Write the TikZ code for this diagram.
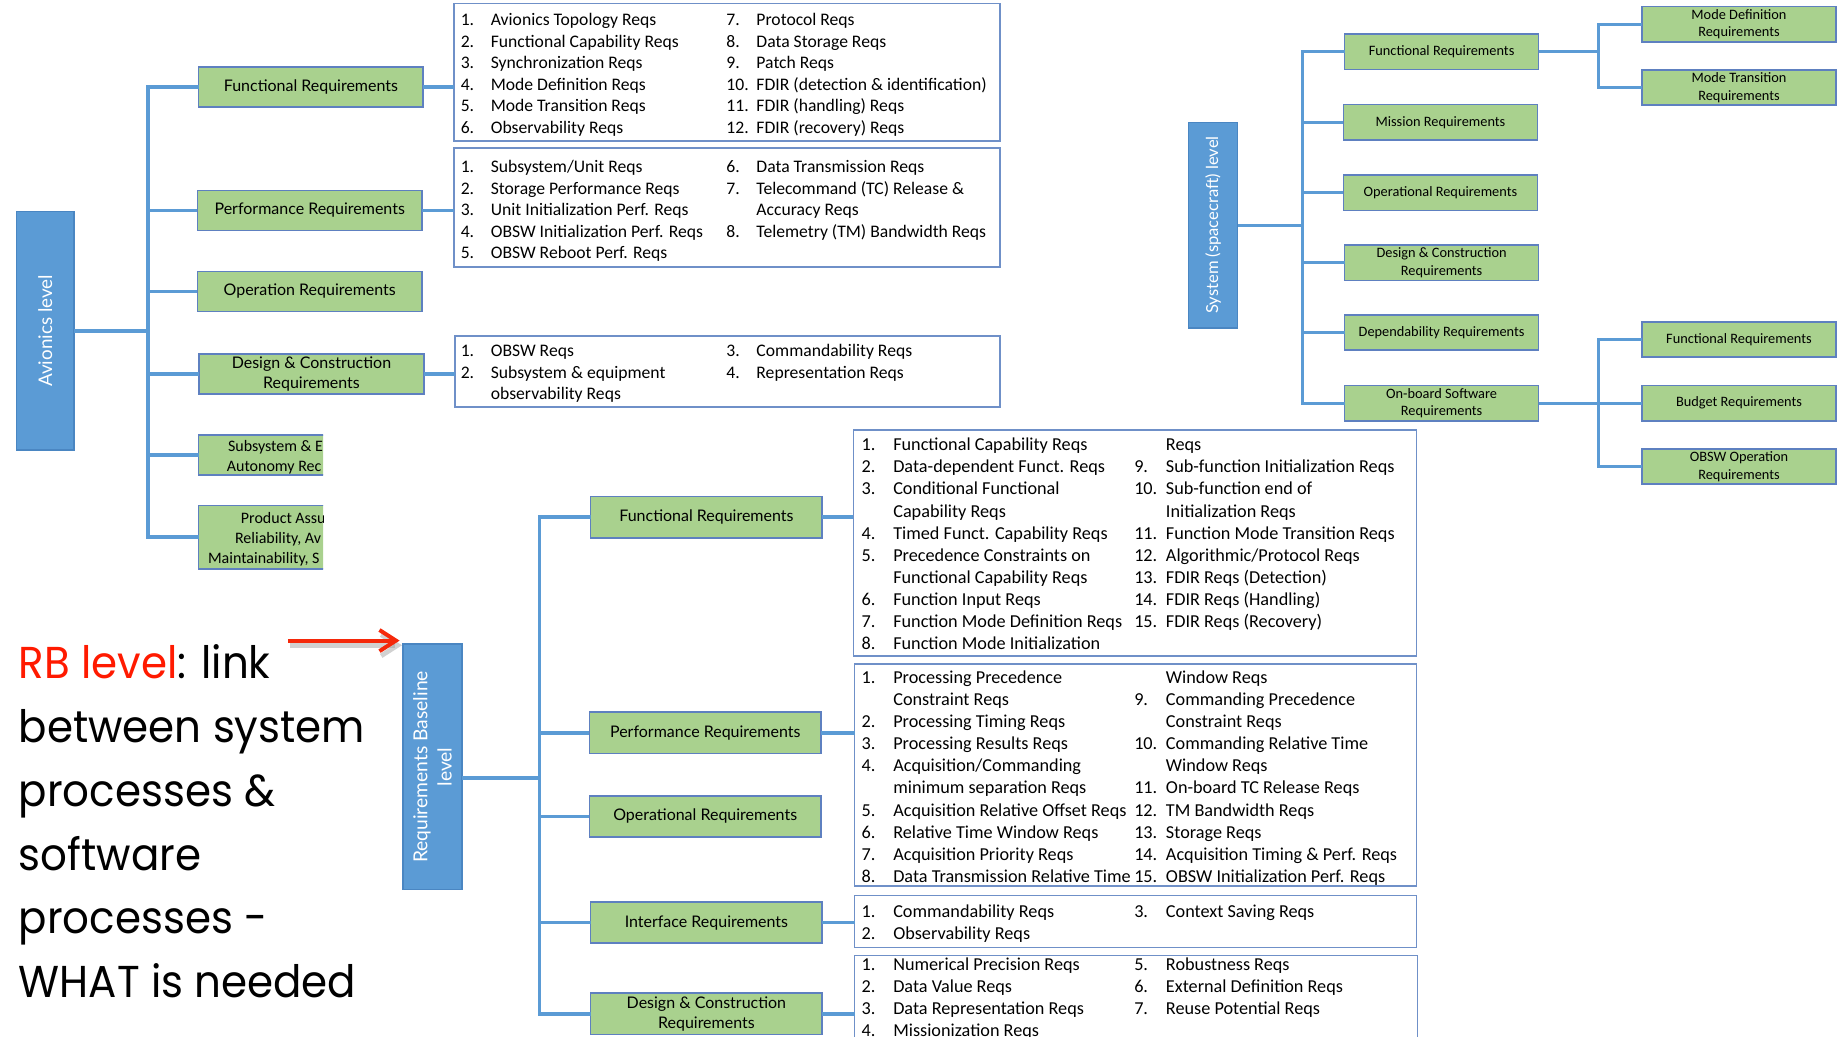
\documentclass[tikz,border=0pt]{standalone}
\usepackage{fontspec}
\setmainfont{Carlito}
\newfontfamily\gillf{Lato}
\newfontfamily\calf{Carlito}
\newfontfamily\twf[FakeStretch=0.94]{Poppins}
\usetikzlibrary{arrows.meta}
\definecolor{lvlfill}{HTML}{5B9BD5}
\definecolor{lvldraw}{HTML}{4A86C2}
\definecolor{connc}{HTML}{5B9BD5}
\definecolor{gfill}{HTML}{A9D18E}
\definecolor{gdraw}{HTML}{5E80C0}
\definecolor{ldraw}{HTML}{6F90C8}
\definecolor{redc}{HTML}{FF1A00}
\definecolor{arrowc}{HTML}{F5280A}
\newlength\numw
\newcommand\NI[2]{\makebox[\numw][l]{#1}#2}
\newcommand\CI[1]{\hspace*{\numw}#1}
\newcommand\fAl{\calf\fontsize{7.5}{9.15}\selectfont\setlength\numw{12.8pt}}
\newcommand\fRl{\calf\fontsize{7.75}{9.4}\selectfont\setlength\numw{13.5pt}}
\newcommand\fG{\gillf\fontsize{6.8}{8.5}\selectfont}
\newcommand\fC{\calf\fontsize{6.8}{8.5}\selectfont}
\newcommand\fS{\calf\fontsize{6.1}{7.5}\selectfont}
\begin{document}
\begin{tikzpicture}[x=0.5pt,y=-0.5pt,
 lvl/.style={draw=lvldraw, fill=lvlfill, line width=0.6pt, inner sep=0pt, outer sep=0pt},
 gbox/.style={draw=gdraw, fill=gfill, line width=0.7pt, inner sep=0pt, outer sep=0pt, align=center, font=\fG},
 agbox/.style={gbox, minimum width=95.5pt, minimum height=17pt},
 rgbox/.style={gbox, minimum width=98.5pt, minimum height=17.5pt},
 sgbox/.style={gbox, font=\fS, minimum width=82.5pt, minimum height=15pt},
 lbox/.style={draw=ldraw, line width=0.7pt, inner sep=0pt, outer sep=0pt},
 conn/.style={draw=connc, line width=1.5pt},
 sconn/.style={draw=connc, line width=1.3pt},
 lcol/.style={inner sep=0pt, outer sep=0pt, anchor=base west},
 rottext/.style={rotate=90, text=white, inner sep=0pt},
]
\useasboundingbox (0,0) rectangle (1568,882);
\clip (0,0) rectangle (1568,882);

%================ Avionics level =================
\node[lvl, minimum width=24.5pt, minimum height=101.5pt] (avl) at (38.5,281.5) {};
\node[rottext, font=\gillf\fontsize{8}{10}\selectfont] (avlT) at (avl.center) {Avionics level};
\node[agbox] (aFR) at (264.5,74) {Functional Requirements};
\node[agbox] (aPR) at (263.5,179) {Performance Requirements};
\node[agbox] (aOR) at (263.5,248) {Operation Requirements};
\node[agbox] (aDC) at (265,318) {Design \& Construction\\Requirements};
\begin{scope}
  \clip (150,350) rectangle (275,500);
  \node[agbox] (aSU) at (264.5,387) {};
  \node[gbox, minimum width=95.5pt, minimum height=27pt] (aPA) at (264.5,457) {};
  \node[lcol, font=\fC] (aSU1) at (194,384) {Subsystem \& E};
  \node[lcol, font=\fC] (aSU2) at (193,401) {Autonomy Rec};
  \node[lcol, font=\fC] (aPA1) at (205,445) {Product Assu};
  \node[lcol, font=\fC] (aPA2) at (200,462) {Reliability, Av};
  \node[lcol, font=\fC] (aPA3) at (177,479) {Maintainability, S};
\end{scope}

\node[lbox, minimum width=232.5pt, minimum height=58.5pt] (aL1) at (618.5,61.5) {};
\node[lcol, font=\fAl] (aL1a) at (392,22) {\begin{tabular}[t]{@{}l@{}}
\NI{1.}{Avionics Topology Reqs}\\
\NI{2.}{Functional Capability Reqs}\\
\NI{3.}{Synchronization Reqs}\\
\NI{4.}{Mode Definition Reqs}\\
\NI{5.}{Mode Transition Reqs}\\
\NI{6.}{Observability Reqs}\end{tabular}};
\node[lcol, font=\fAl] (aL1b) at (618,22) {\begin{tabular}[t]{@{}l@{}}
\NI{7.}{Protocol Reqs}\\
\NI{8.}{Data Storage Reqs}\\
\NI{9.}{Patch Reqs}\\
\NI{10.}{FDIR (detection \& identification)}\\
\NI{11.}{FDIR (handling) Reqs}\\
\NI{12.}{FDIR (recovery) Reqs}\end{tabular}};

\node[lbox, minimum width=232.5pt, minimum height=50.5pt] (aL2) at (618.5,176.5) {};
\node[lcol, font=\fAl] (aL2a) at (392,147) {\begin{tabular}[t]{@{}l@{}}
\NI{1.}{Subsystem/Unit Reqs}\\
\NI{2.}{Storage Performance Reqs}\\
\NI{3.}{Unit Initialization Perf. Reqs}\\
\NI{4.}{OBSW Initialization Perf. Reqs}\\
\NI{5.}{OBSW Reboot Perf. Reqs}\end{tabular}};
\node[lcol, font=\fAl] (aL2b) at (618,147) {\begin{tabular}[t]{@{}l@{}}
\NI{6.}{Data Transmission Reqs}\\
\NI{7.}{Telecommand (TC) Release \&}\\
\CI{Accuracy Reqs}\\
\NI{8.}{Telemetry (TM) Bandwidth Reqs}\end{tabular}};

\node[lbox, minimum width=232pt, minimum height=30pt] (aL3) at (619,316) {};
\node[lcol, font=\fAl] (aL3a) at (392,303.5) {\begin{tabular}[t]{@{}l@{}}
\NI{1.}{OBSW Reqs}\\
\NI{2.}{Subsystem \& equipment}\\
\CI{observability Reqs}\end{tabular}};
\node[lcol, font=\fAl] (aL3b) at (618,303.5) {\begin{tabular}[t]{@{}l@{}}
\NI{3.}{Commandability Reqs}\\
\NI{4.}{Representation Reqs}\end{tabular}};

\coordinate (aT) at (126,281.5);
\draw[conn] (avl.east) -- (aT);
\draw[conn] (aFR.west) -- (aFR.west -| aT) -- (aPA.west -| aT) -- (aPA.west);
\foreach \n in {aPR,aOR,aDC,aSU} \draw[conn] (\n.west -| aT) -- (\n.west);
\draw[conn] (aFR.east) -- (aFR.east -| aL1.west);
\draw[conn] (aPR.east) -- (aPR.east -| aL2.west);
\draw[conn] (aDC.east) -- (aDC.east -| aL3.west);

%================ System level =================
\node[lvl, minimum width=21pt, minimum height=87.5pt] (sys) at (1032,191.5) {};
\node[rottext, font=\gillf\fontsize{7.05}{8.5}\selectfont] (sysT) at (sys.center) {System (spacecraft) level};
\node[sgbox] (sFR) at (1226.5,44) {Functional Requirements};
\node[sgbox] (sMI) at (1225.5,104) {Mission Requirements};
\node[sgbox] (sOP) at (1225.5,164) {Operational Requirements};
\node[sgbox] (sDC) at (1226.5,223.5) {Design \& Construction\\Requirements};
\node[sgbox] (sDE) at (1226.5,283) {Dependability Requirements};
\node[sgbox] (sOB) at (1226.5,343) {On-board Software\\Requirements};
\node[sgbox] (sMD) at (1479.5,20.5) {Mode Definition\\Requirements};
\node[sgbox] (sMT) at (1479.5,74.5) {Mode Transition\\Requirements};
\node[sgbox] (sF2) at (1479.5,289) {Functional Requirements};
\node[sgbox] (sBU) at (1479.5,343) {Budget Requirements};
\node[sgbox] (sOO) at (1479.5,397) {OBSW Operation\\Requirements};

\coordinate (sT) at (1108,191.5);
\coordinate (sU) at (1360,0);
\draw[sconn] (sys.east) -- (sT);
\draw[sconn] (sFR.west) -- (sFR.west -| sT) -- (sOB.west -| sT) -- (sOB.west);
\foreach \n in {sMI,sOP,sDC,sDE} \draw[sconn] (\n.west -| sT) -- (\n.west);
\draw[sconn] (sFR.east) -- (sFR.east -| sU);
\draw[sconn] (sMD.west) -- (sMD.west -| sU) -- (sMT.west -| sU) -- (sMT.west);
\draw[sconn] (sOB.east) -- (sBU.west);
\draw[sconn] (sF2.west) -- (sF2.west -| sU) -- (sOO.west -| sU) -- (sOO.west);

%================ Requirements Baseline level =================
\node[lvl, minimum width=25pt, minimum height=104.5pt] (rb) at (368,652.5) {};
\node[rottext, align=center, font=\gillf\fontsize{8.2}{10.3}\selectfont] (rbT) at (rb.center) {Requirements Baseline\\level};
\node[rgbox] (rFR) at (601,440) {Functional Requirements};
\node[rgbox] (rPR) at (600,623.5) {Performance Requirements};
\node[rgbox] (rOR) at (600,694.5) {Operational Requirements};
\node[rgbox] (rIF) at (601,785) {Interface Requirements};
\node[rgbox] (rDC) at (601,862.5) {Design \& Construction\\Requirements};

\node[lbox, minimum width=239.5pt, minimum height=96pt] (rL1) at (965.5,462) {};
\node[lcol, font=\fRl] (rL1a) at (733,383.5) {\begin{tabular}[t]{@{}l@{}}
\NI{1.}{Functional Capability Reqs}\\
\NI{2.}{Data-dependent Funct. Reqs}\\
\NI{3.}{Conditional Functional}\\
\CI{Capability Reqs}\\
\NI{4.}{Timed Funct. Capability Reqs}\\
\NI{5.}{Precedence Constraints on}\\
\CI{Functional Capability Reqs}\\
\NI{6.}{Function Input Reqs}\\
\NI{7.}{Function Mode Definition Reqs}\\
\NI{8.}{Function Mode Initialization}\end{tabular}};
\node[lcol, font=\fRl] (rL1b) at (965,383.5) {\begin{tabular}[t]{@{}l@{}}
\CI{Reqs}\\
\NI{9.}{Sub-function Initialization Reqs}\\
\NI{10.}{Sub-function end of}\\
\CI{Initialization Reqs}\\
\NI{11.}{Function Mode Transition Reqs}\\
\NI{12.}{Algorithmic/Protocol Reqs}\\
\NI{13.}{FDIR Reqs (Detection)}\\
\NI{14.}{FDIR Reqs (Handling)}\\
\NI{15.}{FDIR Reqs (Recovery)}\end{tabular}};

\node[lbox, minimum width=239pt, minimum height=94.5pt] (rL2) at (966,659.5) {};
\node[lcol, font=\fRl] (rL2a) at (733,581.5) {\begin{tabular}[t]{@{}l@{}}
\NI{1.}{Processing Precedence}\\
\CI{Constraint Reqs}\\
\NI{2.}{Processing Timing Reqs}\\
\NI{3.}{Processing Results Reqs}\\
\NI{4.}{Acquisition/Commanding}\\
\CI{minimum separation Reqs}\\
\NI{5.}{Acquisition Relative Offset Reqs}\\
\NI{6.}{Relative Time Window Reqs}\\
\NI{7.}{Acquisition Priority Reqs}\\
\NI{8.}{Data Transmission Relative Time}\end{tabular}};
\node[lcol, font=\fRl] (rL2b) at (965,581.5) {\begin{tabular}[t]{@{}l@{}}
\CI{Window Reqs}\\
\NI{9.}{Commanding Precedence}\\
\CI{Constraint Reqs}\\
\NI{10.}{Commanding Relative Time}\\
\CI{Window Reqs}\\
\NI{11.}{On-board TC Release Reqs}\\
\NI{12.}{TM Bandwidth Reqs}\\
\NI{13.}{Storage Reqs}\\
\NI{14.}{Acquisition Timing \& Perf. Reqs}\\
\NI{15.}{OBSW Initialization Perf. Reqs}\end{tabular}};

\node[lbox, minimum width=239pt, minimum height=22pt] (rL3) at (966,784) {};
\node[lcol, font=\fRl] (rL3a) at (733,780.5) {\begin{tabular}[t]{@{}l@{}}
\NI{1.}{Commandability Reqs}\\
\NI{2.}{Observability Reqs}\end{tabular}};
\node[lcol, font=\fRl] (rL3b) at (965,780.5) {\begin{tabular}[t]{@{}l@{}}
\NI{3.}{Context Saving Reqs}\end{tabular}};

\node[lbox, minimum width=239.5pt, minimum height=50pt] (rL4) at (966.5,863) {};
\node[lcol, font=\fRl] (rL4a) at (733,825.5) {\begin{tabular}[t]{@{}l@{}}
\NI{1.}{Numerical Precision Reqs}\\
\NI{2.}{Data Value Reqs}\\
\NI{3.}{Data Representation Reqs}\\
\NI{4.}{Missionization Reqs}\end{tabular}};
\node[lcol, font=\fRl] (rL4b) at (965,825.5) {\begin{tabular}[t]{@{}l@{}}
\NI{5.}{Robustness Reqs}\\
\NI{6.}{External Definition Reqs}\\
\NI{7.}{Reuse Potential Reqs}\end{tabular}};

\coordinate (rT) at (459,662);
\draw[conn] (rT -| rb.east) -- (rT);
\draw[conn] (rFR.west) -- (rFR.west -| rT) -- (rDC.west -| rT) -- (rDC.west);
\foreach \n in {rPR,rOR,rIF} \draw[conn] (\n.west -| rT) -- (\n.west);
\draw[conn] (rFR.east) -- (rFR.east -| rL1.west);
\draw[conn] (rPR.east) -- (rPR.east -| rL2.west);
\draw[conn] (rIF.east) -- (rIF.east -| rL3.west);
\draw[conn] (rDC.east) -- (rDC.east -| rL4.west);

%================ RB caption and arrow =================
\node[lcol, font=\twf\fontsize{19}{27.2}\selectfont] (rbtxt) at (16,577) {\begin{tabular}[t]{@{}l@{}}
\textcolor{redc}{RB level}: link\\
between system\\
processes \&\\
software\\
processes -\\
WHAT is needed\end{tabular}};
\coordinate (arS) at (245,545);
\coordinate (arE) at (340,545);
\draw[line width=2pt, draw=black!40, opacity=0.45, -{Straight Barb[length=7pt,width=9pt]}] ([shift={(2,4)}]arS) -- ([shift={(2,4)}]arE);
\draw[line width=1.7pt, draw=arrowc, -{Straight Barb[length=7pt,width=9pt]}] (arS) -- (arE);
\end{tikzpicture}
\end{document}
